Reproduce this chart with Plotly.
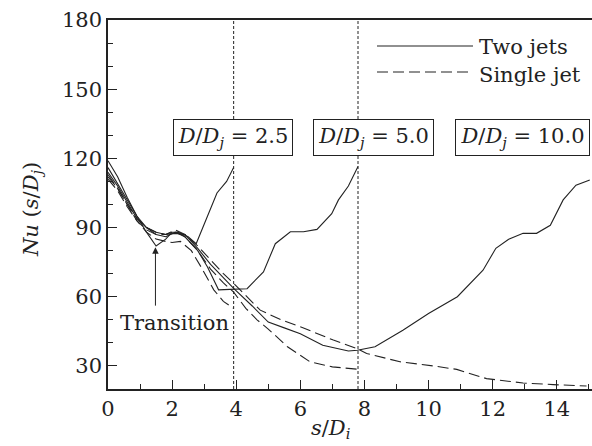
import plotly.graph_objects as go

# ---- data ----
two_25_x = [0, 0.3, 0.6, 0.9, 1.2, 1.5, 1.8, 2.0, 2.2, 2.5, 2.75, 3.1, 3.4, 3.7, 3.92]
two_25_y = [119, 112, 103, 95, 88, 82, 85, 88, 88, 86, 83, 95, 105, 110, 116]

two_50_x = [0, 0.3, 0.6, 0.9, 1.2, 1.5, 1.8, 2.1, 2.4, 2.8, 3.1, 3.45, 3.8, 4.34, 4.85,
            5.22, 5.69, 6.1, 6.52, 6.98, 7.19, 7.5, 7.8]
two_50_y = [114, 108, 101, 94, 90, 87, 86, 88, 86, 80, 73, 63, 63.2, 63.5, 70.8,
            83, 88.2, 88.2, 89.2, 96, 102, 108, 116.5]

two_100_x = [0, 0.3, 0.6, 0.9, 1.2, 1.5, 1.8, 2.1, 2.4, 2.8, 3.2, 3.6, 3.92, 4.5, 5.0,
             5.5, 6.0, 6.7, 7.5, 7.78, 8.33, 9.2, 10.0, 10.9, 11.7, 12.1, 12.5, 12.95,
             13.37, 13.8, 14.2, 14.6, 15.03]
two_100_y = [116, 109, 102, 95, 90, 88, 87, 87.5, 87, 81, 74, 68, 63.6, 56, 49,
             46.5, 44, 39, 36.5, 36.8, 38.3, 45.5, 52.7, 60, 71.5, 81, 84.9, 87.5,
             87.5, 91, 102, 108.4, 110.6]

one_25_x = [0, 0.3, 0.6, 0.9, 1.2, 1.5, 1.8, 2.0, 2.26, 2.6, 2.9, 3.3, 3.6, 3.92]
one_25_y = [113, 107, 100, 93, 88, 85, 84, 83.5, 84, 80, 73, 63, 58, 55]

one_50_x = [0, 0.3, 0.6, 0.9, 1.2, 1.5, 1.8, 2.1, 2.4, 2.8, 3.2, 3.6, 3.92, 4.3, 4.65,
            5.0, 5.6, 6.3, 7.0, 7.78]
one_50_y = [111, 106, 99, 93, 89, 87, 87, 88.5, 86, 80, 72, 66, 62, 55, 50,
            46, 38.3, 31.8, 29.6, 28.6]

one_100_x = [0, 0.3, 0.6, 0.9, 1.2, 1.5, 1.8, 2.1, 2.4, 2.8, 3.2, 3.6, 3.92, 4.75, 5.4,
             6.0, 7.03, 7.76, 8.07, 9.11, 10.15, 10.88, 11.81, 12.95, 13.89, 14.93]
one_100_y = [112, 107, 100, 94, 90, 88, 87, 89, 87, 82, 76, 70, 65.8, 54.2, 50,
             47, 41.2, 37.6, 35.4, 31.8, 30, 28.5, 24.5, 22.6, 21.9, 21.3]

divider_x = [3.92, 7.8]
box_labels = ["<i>D</i>/<i>D</i><sub><i>j</i></sub> = 2.5",
              "<i>D</i>/<i>D</i><sub><i>j</i></sub> = 5.0",
              "<i>D</i>/<i>D</i><sub><i>j</i></sub> = 10.0"]
box_x = [3.89, 8.27, 12.94]
box_w = [114, 115, 129]
box_y = 129.2
x_ticks = [0, 2, 4, 6, 8, 10, 12, 14]
y_ticks = [30, 60, 90, 120, 150, 180]

INK = "#222222"
FONT = "DejaVu Serif"
FS = 21
DASH = "11px,5px"

fig = go.Figure()
for xs, ys in [(two_25_x, two_25_y), (two_50_x, two_50_y), (two_100_x, two_100_y)]:
    fig.add_trace(go.Scatter(x=xs, y=ys, mode="lines",
                             line=dict(color=INK, width=1.1), showlegend=False))
for xs, ys in [(one_25_x, one_25_y), (one_50_x, one_50_y), (one_100_x, one_100_y)]:
    fig.add_trace(go.Scatter(x=xs, y=ys, mode="lines",
                             line=dict(color=INK, width=1.1, dash=DASH), showlegend=False))

for xv in divider_x:
    fig.add_shape(type="line", xref="x", yref="paper", x0=xv, x1=xv, y0=0, y1=1,
                  line=dict(color=INK, width=1, dash="3px,2px"))

# legend samples (paper coords)
W, H, L, B = 484, 369, 108, 389
def px(xp):
    return (xp - L) / W
def py(yp):
    return (B - yp) / H

fig.add_shape(type="line", xref="paper", yref="paper", x0=px(377), x1=px(473),
              y0=py(46), y1=py(46), line=dict(color=INK, width=1.1))
fig.add_shape(type="line", xref="paper", yref="paper", x0=px(377), x1=px(473),
              y0=py(72), y1=py(72), line=dict(color=INK, width=1.1, dash="11px,5px"))

annotations = [
    dict(text="Two jets", xref="paper", yref="paper", x=px(477), y=py(47),
         xanchor="left", yanchor="middle", showarrow=False),
    dict(text="Single jet", xref="paper", yref="paper", x=px(477), y=py(75),
         xanchor="left", yanchor="middle", showarrow=False),
    dict(text="Transition", xref="x", yref="y", x=2.09, y=48.5,
         xanchor="center", yanchor="middle", showarrow=False),
    dict(text="", xref="x", yref="y", x=1.48, y=81.5, axref="x", ayref="y",
         ax=1.48, ay=55.5, showarrow=True, arrowhead=2, arrowsize=1.3,
         arrowwidth=1, arrowcolor=INK),
    dict(text="<i>Nu</i> (<i>s</i>/<i>D</i><sub><i>j</i></sub>)", xref="paper", yref="paper",
         x=px(32), y=py(210), textangle=-90, xanchor="center", yanchor="middle",
         showarrow=False),
    dict(text="<i>s</i>/<i>D</i><sub><i>i</i></sub>", xref="paper", yref="paper",
         x=px(330), y=py(429), xanchor="center", yanchor="middle", showarrow=False),
]
for lab, bx, bw in zip(box_labels, box_x, box_w):
    annotations.append(dict(text=lab, xref="x", yref="y", x=bx, y=box_y,
                            xanchor="center", yanchor="middle", showarrow=False,
                            width=bw, height=31, align="center", valign="middle",
                            bordercolor=INK, borderwidth=1, borderpad=2,
                            bgcolor="white"))

fig.update_layout(
    width=592, height=446,
    margin=dict(l=L, r=0, t=20, b=446 - B),
    paper_bgcolor="white", plot_bgcolor="white",
    font=dict(family=FONT, size=FS, color=INK),
    annotations=annotations,
    xaxis=dict(range=[0, 15.1], tickvals=x_ticks, ticks="inside", ticklen=9,
               tickwidth=1, tickcolor=INK, showline=True, linecolor=INK, linewidth=1.6,
               mirror=True, showgrid=False, zeroline=False,
               minor=dict(dtick=1, ticks="inside", ticklen=5, tickcolor=INK, showgrid=False),
               tickfont=dict(family=FONT, size=FS, color=INK)),
    yaxis=dict(range=[20, 180], tickvals=y_ticks, ticks="inside", ticklen=9,
               tickwidth=1, tickcolor=INK, showline=True, linecolor=INK, linewidth=1.6,
               mirror=False, showgrid=False, zeroline=False,
               minor=dict(dtick=10, ticks="inside", ticklen=5, tickcolor=INK, showgrid=False),
               tickfont=dict(family=FONT, size=FS, color=INK)),
)

fig.write_html("out.html")
